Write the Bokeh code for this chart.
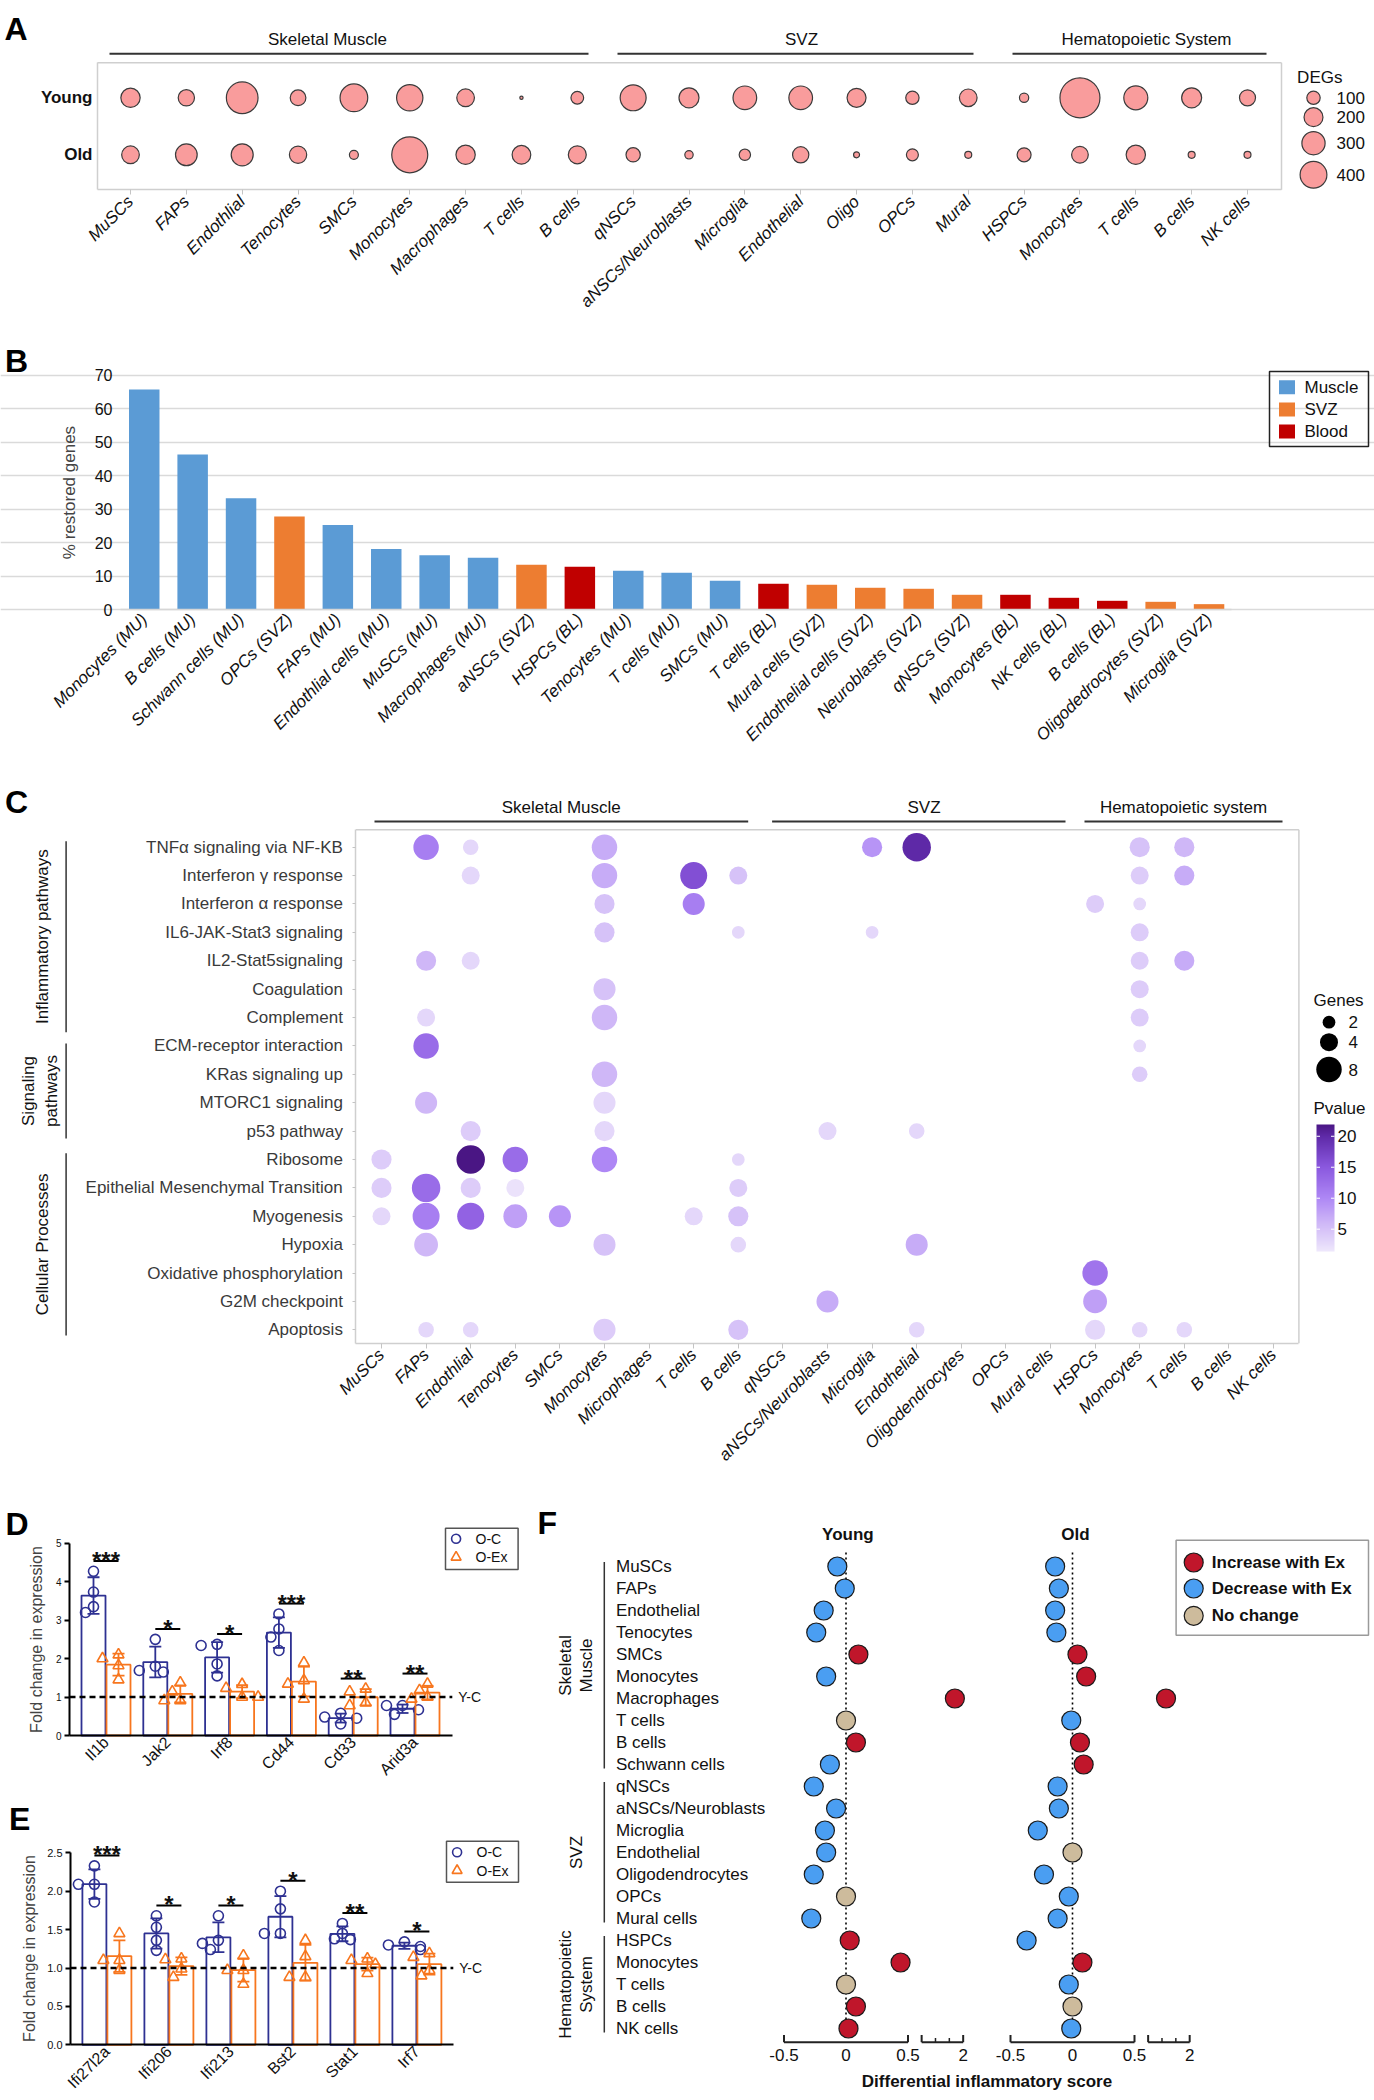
import numpy as np
from math import pi
from bokeh.plotting import figure
from bokeh.models import (Range1d, FixedTicker, LinearColorMapper, ColumnDataSource,
                          LinearAxis, Grid, NumeralTickFormatter)
from bokeh.layouts import column, row
from bokeh.embed import file_html
from bokeh.resources import INLINE
from bokeh.core.properties import value

FONT = "Liberation Sans"

# ============================ DATA ============================
# ---- Panel A: DEGs with exercise ----
a_cells = ["MuSCs", "FAPs", "Endothlial", "Tenocytes", "SMCs", "Monocytes", "Macrophages",
           "T cells", "B cells", "qNSCs", "aNSCs/Neuroblasts", "Microglia", "Endothelial",
           "Oligo", "OPCs", "Mural", "HSPCs", "Monocytes", "T cells", "B cells", "NK cells"]
a_ages = ["Old", "Young"]
a_degs_young = [208, 148, 559, 137, 427, 386, 174, 6, 90, 376, 223, 312, 312, 201, 99, 174,
                48, 891, 321, 223, 143]
a_degs_old = [174, 262, 270, 167, 45, 722, 208, 194, 180, 114, 39, 72, 148, 20, 80, 27,
              109, 155, 208, 27, 27]
a_tissues = ["Skeletal Muscle", "SVZ", "Hematopoietic System"]
a_legend_degs = [100, 200, 300, 400]

# ---- Panel B: % restored genes ----
b_labels = ["Monocytes (MU)", "B cells (MU)", "Schwann cells (MU)", "OPCs (SVZ)", "FAPs (MU)",
            "Endothlial cells (MU)", "MuSCs (MU)", "Macrophages (MU)", "aNSCs (SVZ)", "HSPCs (BL)",
            "Tenocytes (MU)", "T cells (MU)", "SMCs (MU)", "T cells (BL)", "Mural cells (SVZ)",
            "Endothelial cells (SVZ)", "Neuroblasts (SVZ)", "qNSCs (SVZ)", "Monocytes (BL)",
            "NK cells (BL)", "B cells (BL)", "Oligodedrocytes (SVZ)", "Microglia (SVZ)"]
b_values = [65.8, 46.4, 33.3, 27.8, 25.3, 18.1, 16.2, 15.5, 13.4, 12.8, 11.6, 11.0, 8.6, 7.7,
            7.4, 6.5, 6.2, 4.4, 4.4, 3.5, 2.6, 2.3, 1.6]
b_tissue = ["Muscle", "Muscle", "Muscle", "SVZ", "Muscle", "Muscle", "Muscle", "Muscle", "SVZ",
            "Blood", "Muscle", "Muscle", "Muscle", "Blood", "SVZ", "SVZ", "SVZ", "SVZ", "Blood",
            "Blood", "Blood", "SVZ", "SVZ"]
b_legend = ["Muscle", "SVZ", "Blood"]
b_yticks = [0, 10, 20, 30, 40, 50, 60, 70]

# ---- Panel C: pathway enrichment ----
c_cells = ["MuSCs", "FAPs", "Endothlial", "Tenocytes", "SMCs", "Monocytes", "Microphages",
           "T cells", "B cells", "qNSCs", "aNSCs/Neuroblasts", "Microglia", "Endothelial",
           "Oligodendrocytes", "OPCs", "Mural cells", "HSPCs", "Monocytes", "T cells",
           "B cells", "NK cells"]
c_pathways = ["TNFα signaling via NF-ΚB", "Interferon γ response", "Interferon α response",
              "IL6-JAK-Stat3 signaling", "IL2-Stat5signaling", "Coagulation", "Complement",
              "ECM-receptor interaction", "KRas signaling up", "MTORC1 signaling", "p53 pathway",
              "Ribosome", "Epithelial Mesenchymal Transition", "Myogenesis", "Hypoxia",
              "Oxidative phosphorylation", "G2M checkpoint", "Apoptosis"]
c_tissues = ["Skeletal Muscle", "SVZ", "Hematopoietic system"]
c_categories = ["Inflammatory pathways", "Signaling|pathways", "Cellular Processes"]
c_row = [0]*7 + [1]*6 + [2]*4 + [3]*4 + [4]*4 + [5]*2 + [6]*3 + [7]*2 + [8]*2 + [9]*2 + \
        [10]*4 + [11]*5 + [12]*5 + [13]*7 + [14]*4 + [15]*1 + [16]*2 + [17]*8
c_col = [1, 2, 5, 11, 12, 17, 18,
         2, 5, 7, 8, 17, 18,
         5, 7, 16, 17,
         5, 8, 11, 17,
         1, 2, 17, 18,
         5, 17,
         1, 5, 17,
         1, 17,
         5, 17,
         1, 5,
         2, 5, 10, 12,
         0, 2, 3, 5, 8,
         0, 1, 2, 3, 8,
         0, 1, 2, 3, 4, 7, 8,
         1, 5, 8, 12,
         16,
         10, 16,
         1, 2, 5, 8, 12, 16, 17, 18]
c_genes = [8, 3, 8, 5, 10, 5, 5,
           4, 8, 9, 4, 4, 5,
           5, 6, 4, 2,
           5, 2, 2, 4,
           5, 4, 4, 5,
           6, 4,
           4, 8, 4,
           8, 2,
           8, 3,
           6, 6,
           5, 5, 4, 3,
           5, 10, 8, 8, 2,
           5, 10, 5, 4, 4,
           4, 9, 9, 7, 6, 4, 5,
           7, 6, 3, 6,
           8,
           6, 7,
           3, 3, 6, 5, 3, 5, 3, 3]
c_pval = [11, 3, 7, 9, 20, 5, 6,
          3, 7, 16, 5, 4, 7,
          5, 11, 4, 3,
          5, 3, 3, 4,
          6, 3, 4, 7,
          5, 4,
          3, 6, 4,
          13, 3,
          6, 4,
          6, 3,
          4, 3, 3, 3,
          4, 22, 13, 10, 3,
          4, 13, 4, 2, 4,
          3, 11, 14, 8, 9, 3, 5,
          6, 5, 3, 7,
          12,
          7, 8,
          3, 3, 4, 5, 3, 3, 3, 3]
c_legend_genes = [2, 4, 8]
c_legend_pval = [5, 10, 15, 20]
c_pval_range = [1.4, 21.9]

# ---- Panel D: qPCR inflammatory genes ----
d_genes = ["Il1b", "Jak2", "Irf8", "Cd44", "Cd33", "Arid3a"]
d_oc = [[4.27, 3.73, 3.20, 3.35], [2.50, 1.65, 1.69, 1.80], [2.34, 2.37, 1.86, 1.55],
        [3.16, 2.77, 2.56, 2.21], [0.58, 0.30, 0.48, 0.45], [0.78, 0.78, 0.67, 0.55]]
d_oex = [[2.00, 2.10, 1.82, 1.45], [1.37, 1.14, 0.91, 0.91], [1.33, 1.23, 1.00, 1.00],
         [1.89, 1.43, 1.34, 0.95], [1.14, 1.21, 0.78, 0.85], [0.95, 1.34, 1.17, 1.00]]
d_sig = ["***", "*", "*", "***", "**", "**"]
d_yticks = [0, 1, 2, 3, 4, 5]

# ---- Panel E: qPCR interferon genes ----
e_genes = ["Ifi27l2a", "Ifi206", "Ifi213", "Bst2", "Stat1", "Irf7"]
e_oc = [[2.33, 2.09, 2.09, 1.86], [1.68, 1.53, 1.36, 1.23], [1.68, 1.24, 1.32, 1.36],
        [2.00, 1.77, 1.45, 1.45], [1.58, 1.37, 1.38, 1.45], [1.24, 1.34, 1.28, 1.30]]
e_oex = [[1.45, 1.10, 1.10, 0.97], [1.12, 1.11, 0.99, 0.88], [1.16, 0.97, 0.97, 0.79],
         [1.36, 1.15, 0.88, 0.88], [1.10, 1.12, 1.05, 0.93], [1.14, 1.19, 0.90, 0.97]]
e_sig = ["***", "*", "*", "*", "**", "*"]
e_yticks = [0.0, 0.5, 1.0, 1.5, 2.0, 2.5]
de_series = ["O-C", "O-Ex"]
de_ref_label = "Y-C"

# ---- Panel F: differential inflammatory score ----
f_cells = ["MuSCs", "FAPs", "Endothelial", "Tenocytes", "SMCs", "Monocytes", "Macrophages",
           "T cells", "B cells", "Schwann cells", "qNSCs", "aNSCs/Neuroblasts", "Microglia",
           "Endothelial", "Oligodendrocytes", "OPCs", "Mural cells", "HSPCs", "Monocytes",
           "T cells", "B cells", "NK cells"]
f_young = [-0.07, -0.01, -0.18, -0.24, 0.10, -0.16, 1.80, 0.0, 0.08, -0.13, -0.26, -0.08,
           -0.17, -0.16, -0.26, 0.0, -0.28, 0.03, 0.44, 0.0, 0.08, 0.02]
f_young_cls = ["dec", "dec", "dec", "dec", "inc", "dec", "inc", "nc", "inc", "dec", "dec", "dec",
               "dec", "dec", "dec", "nc", "dec", "inc", "inc", "nc", "inc", "inc"]
f_old = [-0.14, -0.11, -0.14, -0.13, 0.04, 0.11, 1.43, -0.01, 0.06, 0.09, -0.12, -0.11,
         -0.28, 0.0, -0.23, -0.03, -0.12, -0.37, 0.08, -0.03, 0.0, -0.01]
f_old_cls = ["dec", "dec", "dec", "dec", "inc", "inc", "inc", "dec", "inc", "inc", "dec", "dec",
             "dec", "nc", "dec", "dec", "dec", "dec", "inc", "dec", "nc", "dec"]
f_group_names = [["Skeletal", "Muscle"], ["SVZ"], ["Hematopoietic", "System"]]
f_group_rows = [(0, 9), (10, 16), (17, 21)]
f_legend = ["Increase with Ex", "Decrease with Ex", "No change"]
f_xticks = [-0.5, 0.0, 0.5, 2.0]
f_panels = ["Young", "Old"]

# ============================ STYLE ============================
W = 1374
C_OC, C_OX = "#2E3192", "#F7761E"
B_COL = {"Muscle": "#5B9BD5", "SVZ": "#ED7D31", "Blood": "#C00000"}
F_COL = {"inc": "#C0162B", "dec": "#4A9EF2", "nc": "#CDBB9C"}
BOXC = "#cfcfcf"


def make_fig(w, h, fig_left, fig_top, xmap, ymap):
    """Figure whose frame covers the whole figure; axes are placed at fixed locations."""
    p = figure(width=w, height=h, x_range=Range1d(xmap(fig_left), xmap(fig_left + w)),
               y_range=Range1d(ymap(fig_top + h), ymap(fig_top)), output_backend="svg",
               toolbar_location=None, x_axis_location=None, y_axis_location=None)
    p.center = [r for r in p.center if not isinstance(r, Grid)]
    p.outline_line_color = None
    p.min_border_left = 0
    p.min_border_right = 0
    p.min_border_top = 0
    p.min_border_bottom = 0
    p.background_fill_color = "white"
    p.border_fill_color = "white"
    return p


def put_text(p, xs, ys, texts, size="17px", align="left", baseline="middle", style="normal",
             color="#111111", angle=0.0, **kw):
    src = ColumnDataSource(dict(x=list(xs), y=list(ys), t=list(texts)))
    p.text("x", "y", text="t", source=src, text_font=value(FONT), text_font_size=value(size),
           text_align=value(align), text_baseline=value(baseline),
           text_font_style=value(style), text_color=color, angle=angle, **kw)


def letter(p, x, y, t):
    put_text(p, [x], [y], [t], size="32px", style="bold", baseline="alphabetic", color="black")


def axis_common(ax, size="17px", color="#111111", italic=False):
    ax.major_label_text_font = FONT
    ax.major_label_text_font_size = size
    ax.major_label_text_color = color
    ax.major_label_text_font_style = "italic" if italic else "normal"
    ax.minor_tick_in = 0
    ax.minor_tick_out = 0
    ax.minor_tick_line_color = None


def interp_palette(stops_v, stops_c, lo, hi, n=256):
    rgb = np.array([[int(c[i:i + 2], 16) for i in (1, 3, 5)] for c in stops_c], float)
    out = []
    for v in np.linspace(lo, hi, n):
        r = [np.interp(v, stops_v, rgb[:, k]) for k in range(3)]
        out.append("#%02x%02x%02x" % tuple(int(round(x)) for x in r))
    return out


# ============================ PANEL A ============================
AX0, AXP, AY1, AYP = 130.0, 55.85, 97.3, 57.0
ax_ = lambda px: (px - AX0) / AXP
ay_ = lambda py: 1 + (AY1 - py) / AYP
pA = make_fig(W, 328, 0, 0, ax_, ay_)
pA.line([ax_(97), ax_(1281)], [ay_(62.3)] * 2, line_color=BOXC, line_width=1.5)
pA.line([ax_(1281)] * 2, [ay_(189.3), ay_(62.3)], line_color=BOXC, line_width=1.5)
n_a = len(a_cells)
srcA = ColumnDataSource(dict(x=list(range(n_a)) * 2, y=[1] * n_a + [0] * n_a,
                             degs=a_degs_young + a_degs_old))
srcA.data["size"] = [1.34 * np.sqrt(v) for v in srcA.data["degs"]]
pA.scatter("x", "y", size="size", source=srcA, fill_color="#F99C9C", line_color="#3b3b3b",
           line_width=1.2)
xa = LinearAxis(ticker=FixedTicker(ticks=list(range(n_a)), minor_ticks=[]),
                fixed_location=ay_(189.3),
                major_label_overrides={i: n for i, n in enumerate(a_cells)},
                major_label_orientation=pi / 4, bounds=(ax_(97), ax_(1281)),
                axis_line_color=BOXC, axis_line_width=1.5, major_tick_in=0, major_tick_out=5,
                major_tick_line_color="#c4c4c4", major_label_standoff=4)
axis_common(xa, italic=True)
pA.add_layout(xa, "below")
ya = LinearAxis(ticker=FixedTicker(ticks=[0, 1], minor_ticks=[]), fixed_location=ax_(97),
                major_label_overrides={0: a_ages[0], 1: a_ages[1]},
                bounds=(ay_(189.3), ay_(62.3)), axis_line_color=BOXC, axis_line_width=1.5,
                major_tick_in=0, major_tick_out=0, major_label_standoff=5)
axis_common(ya)
ya.major_label_text_font_style = "bold"
pA.add_layout(ya, "left")
a_spans = [(109, 588, 327), (617, 973, 801), (1012, 1266, 1146)]
for l, r, c in a_spans:
    pA.line([ax_(l), ax_(r)], [ay_(53.3)] * 2, line_color="#333333", line_width=2)
put_text(pA, [ax_(s[2]) for s in a_spans], [ay_(39)] * 3, a_tissues, align="center")
put_text(pA, [ax_(1296.6)], [ay_(77)], ["DEGs"])
leg_y = [97.3, 116.7, 142.7, 174.3]
pA.scatter([ax_(1313)] * 4, [ay_(y) for y in leg_y],
           size=[1.34 * np.sqrt(v) for v in a_legend_degs],
           fill_color="#F99C9C", line_color="#3b3b3b", line_width=1.2)
put_text(pA, [ax_(1336)] * 4, [ay_(y) for y in leg_y], [str(v) for v in a_legend_degs])
letter(pA, ax_(4), ay_(28), "A")

# ============================ PANEL B ============================
BX0, BXP, BY0, BYP = 143.75, 48.4, 609.0, 3.343
bx_ = lambda px: (px - BX0) / BXP
by_ = lambda py: (BY0 - py) / BYP
pB = make_fig(W, 440, 0, 328, bx_, by_)
gB = Grid(dimension=1, ticker=FixedTicker(ticks=b_yticks),
          bounds=(bx_(120), bx_(1231)), grid_line_color="#dadada", grid_line_width=1.5)
pB.add_layout(gB)
n_b = len(b_labels)
pB.vbar(x=list(range(n_b)), top=b_values, width=0.63,
        fill_color=[B_COL[t] for t in b_tissue], line_color=None)
xb = LinearAxis(ticker=FixedTicker(ticks=list(range(n_b)), minor_ticks=[]), fixed_location=0,
                major_label_overrides={i: n for i, n in enumerate(b_labels)},
                major_label_orientation=pi / 4, bounds=(bx_(120), bx_(1231)),
                axis_line_color="#d6d6d6", axis_line_width=1.5, major_tick_in=0,
                major_tick_out=0, major_label_standoff=7)
axis_common(xb, italic=True)
pB.add_layout(xb, "below")
yb = LinearAxis(ticker=FixedTicker(ticks=b_yticks, minor_ticks=[]), fixed_location=bx_(120),
                bounds=(b_yticks[0], b_yticks[-1]),
                axis_line_color=None, major_tick_in=0, major_tick_out=0,
                major_label_standoff=8, axis_label="% restored genes",
                axis_label_text_font=FONT, axis_label_text_font_size="17px",
                axis_label_text_font_style="normal", axis_label_standoff=13)
axis_common(yb, size="16px")
pB.add_layout(yb, "left")
pB.quad(left=bx_(1269), right=bx_(1368), top=by_(371), bottom=by_(446), fill_color=None,
        line_color="#222222", line_width=1.5)
leg_by = [386.7, 409.0, 431.0]
pB.rect(x=[bx_(1286.5)] * 3, y=[by_(y) for y in leg_by], width=16, height=14,
        width_units="screen", height_units="screen",
        fill_color=[B_COL[t] for t in b_legend], line_color=None)
put_text(pB, [bx_(1304)] * 3, [by_(y) for y in leg_by], b_legend)
letter(pB, bx_(4.5), by_(360), "B")

# ============================ PANEL C ============================
CX0, CXP, CY0, CYP = 381.0, 44.6, 846.7, 28.39
cx_ = lambda px: (px - CX0) / CXP
cy_ = lambda py: 17 - (py - CY0) / CYP
pC = make_fig(W, 712, 0, 768, cx_, cy_)
pC.line([cx_(355.4), cx_(1298.4)], [cy_(829.3)] * 2, line_color=BOXC, line_width=1.5)
pC.line([cx_(1298.4)] * 2, [cy_(1342.7), cy_(829.3)], line_color=BOXC, line_width=1.5)
pal = interp_palette([1.4, 3, 6, 10, 15, 20, 21.9],
                     ["#EFE8FC", "#E3D6FA", "#CFB7F7", "#AE87F5", "#8B59DF", "#5F2AA8", "#4A1684"],
                     c_pval_range[0], c_pval_range[1])
mapper = LinearColorMapper(palette=pal, low=c_pval_range[0], high=c_pval_range[1])
n_rows = len(c_pathways)
srcC = ColumnDataSource(dict(x=c_col, y=[n_rows - 1 - r for r in c_row], p=c_pval,
                             size=[9.0 * np.sqrt(g) for g in c_genes]))
pC.scatter("x", "y", size="size", source=srcC, fill_color={"field": "p", "transform": mapper},
           line_color=None)
xc = LinearAxis(ticker=FixedTicker(ticks=list(range(len(c_cells))), minor_ticks=[]),
                fixed_location=cy_(1342.7),
                major_label_overrides={i: n for i, n in enumerate(c_cells)},
                major_label_orientation=pi / 4, bounds=(cx_(355.4), cx_(1298.4)),
                axis_line_color=BOXC, axis_line_width=1.5, major_tick_in=0, major_tick_out=5,
                major_tick_line_color="#c4c4c4", major_label_standoff=4)
axis_common(xc, italic=True)
pC.add_layout(xc, "below")
yc = LinearAxis(ticker=FixedTicker(ticks=list(range(n_rows)), minor_ticks=[]),
                fixed_location=cx_(355.4),
                major_label_overrides={n_rows - 1 - i: n for i, n in enumerate(c_pathways)},
                bounds=(cy_(1342.7), cy_(829.3)), axis_line_color=BOXC, axis_line_width=1.5,
                major_tick_in=0, major_tick_out=3, major_tick_line_color="#c4c4c4",
                major_label_standoff=10)
axis_common(yc, color="#3a3a3a")
pC.add_layout(yc, "left")
c_spans = [(374, 747.7, 560.7), (771.6, 1065, 923.5), (1084, 1282, 1183)]
for l, r, c in c_spans:
    pC.line([cx_(l), cx_(r)], [cy_(821)] * 2, line_color="#333333", line_width=2)
put_text(pC, [cx_(s[2]) for s in c_spans], [cy_(806.7)] * 3, c_tissues, align="center")
# Genes legend
put_text(pC, [cx_(1313)], [cy_(1000)], ["Genes"])
gl_y = [1021.7, 1041.7, 1069.0]
pC.scatter([cx_(1328.5)] * 3, [cy_(y) for y in gl_y],
           size=[9.0 * np.sqrt(g) for g in c_legend_genes], fill_color="black", line_color=None)
put_text(pC, [cx_(1348)] * 3, [cy_(y) for y in gl_y], [str(g) for g in c_legend_genes])
# Pvalue colour bar
put_text(pC, [cx_(1313)], [cy_(1108)], ["Pvalue"])
cb_top, cb_bot = 1124.0, 1251.0
cb_pp = (cb_bot - cb_top) / (c_pval_range[1] - c_pval_range[0])
grad = np.linspace(c_pval_range[0], c_pval_range[1], 256).reshape(256, 1)
pC.image(image=[grad], x=cx_(1316), y=cy_(cb_bot), dw=18 / CXP, dh=(cb_bot - cb_top) / CYP,
         color_mapper=mapper)
tick_py = [cb_bot - (v - c_pval_range[0]) * cb_pp for v in c_legend_pval]
pC.segment(x0=[cx_(1316)] * 4, y0=[cy_(y) for y in tick_py], x1=[cx_(1319.5)] * 4,
           y1=[cy_(y) for y in tick_py], line_color="white", line_width=1)
pC.segment(x0=[cx_(1330.5)] * 4, y0=[cy_(y) for y in tick_py], x1=[cx_(1334)] * 4,
           y1=[cy_(y) for y in tick_py], line_color="white", line_width=1)
put_text(pC, [cx_(1337)] * 4, [cy_(y) for y in tick_py], [str(v) for v in c_legend_pval])
# left category brackets
c_brackets = [(840.7, 1031.7), (1043, 1138), (1152.7, 1335)]
c_label_x = [[42.4], [27.7, 51.3], [42.4]]
for (t, b), xs, name in zip(c_brackets, c_label_x, c_categories):
    pC.line([cx_(65.6)] * 2, [cy_(t), cy_(b)], line_color="#333333", line_width=1.5)
    parts = name.split("|")
    put_text(pC, [cx_(x) for x in xs], [cy_((t + b) / 2)] * len(parts), parts,
             align="center", angle=pi / 2)
letter(pC, cx_(4.5), cy_(801.7), "C")


# ============================ PANELS D / E ============================
def swarm(vals, ypu, xpu, d=9.5):
    order = sorted(range(len(vals)), key=lambda i: -vals[i])
    placed, offs = [], [0.0] * len(vals)
    for i in order:
        cand = 0
        for cand in (0, -8, 8, -16, 16):
            if all((cand - ox) ** 2 + ((vals[i] - vals[j]) * ypu) ** 2 >= d * d for j, ox in placed):
                break
        offs[i] = cand / xpu
        placed.append((i, cand))
    return offs


def bar_panel(genes, oc, oex, sig, yticks, g, fmt=None):
    X0, XP, Y0, YP = g["x0"], g["xp"], g["y0"], g["yp"]
    xd = lambda px: (px - X0) / XP
    yd = lambda py: (Y0 - py) / YP
    p = make_fig(535, g["h"], 0, g["top"], xd, yd)
    n = len(genes)
    dxb = 12.5 / XP
    for vals_list, sgn, col, mk, msz in ((oc, -1, C_OC, "circle", 10),
                                         (oex, 1, C_OX, "triangle", 11)):
        xs = [i + sgn * dxb for i in range(n)]
        means = [float(np.mean(v)) for v in vals_list]
        sds = [float(np.std(v, ddof=1)) for v in vals_list]
        lo = [m - s for m, s in zip(means, sds)]
        hi = [m + s for m, s in zip(means, sds)]
        p.vbar(x=xs, top=means, width=24 / XP, fill_color=None, line_color=col, line_width=1.8)
        p.segment(x0=xs, y0=lo, x1=xs, y1=hi, line_color=col, line_width=1.8)
        p.scatter(xs + xs, lo + hi, marker="dash", size=12, line_color=col, line_width=1.8)
        px_, py_ = [], []
        for x, v in zip(xs, vals_list):
            px_ += [x + o for o in swarm(v, YP, XP)]
            py_ += list(v)
        p.scatter(px_, py_, marker=mk, size=msz, fill_alpha=0, line_color=col, line_width=1.6)
    for i, s in enumerate(sig):
        yl = max(max(oc[i]), max(oex[i])) + 10.4 / YP
        p.line([i - dxb, i + dxb], [yl, yl], line_color="black", line_width=2)
        put_text(p, [i], [yl + 0.5 / YP], [s], size="24px", align="center",
                 baseline="alphabetic", style="bold", color="#111111")
    p.line([xd(g["fl"]), xd(g["xend"])], [1, 1], line_color="black", line_width=2.5,
           line_dash="6 4")
    put_text(p, [xd(g["xend"] + 6)], [1], [de_ref_label], size="14px")
    L, R, T, B = g["leg"]
    p.quad(left=xd(L), right=xd(R), top=yd(T), bottom=yd(B), fill_color=None,
           line_color="#555555", line_width=1.5)
    p.scatter([xd(L + 10.6)], [yd(g["legy"][0])], marker="circle", size=9, fill_alpha=0,
              line_color=C_OC, line_width=1.6)
    p.scatter([xd(L + 10.6)], [yd(g["legy"][1])], marker="triangle", size=10, fill_alpha=0,
              line_color=C_OX, line_width=1.6)
    put_text(p, [xd(L + 30)] * 2, [yd(y) for y in g["legy"]], de_series, size="14px")
    xa_ = LinearAxis(ticker=FixedTicker(ticks=list(range(n)), minor_ticks=[]), fixed_location=0,
                     major_label_overrides={i: nm for i, nm in enumerate(genes)},
                     bounds=(xd(g["fl"]), xd(g["xend"])), axis_line_width=2,
                     axis_line_color="black", major_tick_in=0, major_tick_out=0,
                     major_label_orientation=pi / 4, major_label_standoff=4)
    axis_common(xa_, size="16px")
    p.add_layout(xa_, "below")
    ya_ = LinearAxis(ticker=FixedTicker(ticks=yticks, minor_ticks=[]), bounds=(0, yticks[-1]),
                     fixed_location=xd(g["fl"]),
                     axis_line_width=2, axis_line_color="black", major_tick_in=0,
                     major_tick_out=5, major_tick_line_width=2, major_label_standoff=3,
                     axis_label="Fold change in expression", axis_label_text_font=FONT,
                     axis_label_text_font_size="16px", axis_label_text_font_style="normal",
                     axis_label_standoff=g["als"])
    if fmt:
        ya_.formatter = NumeralTickFormatter(format=fmt)
    axis_common(ya_, size=g["tfs"])
    p.add_layout(ya_, "left")
    letter(p, xd(g["let"][0]), yd(g["let"][1]), g["let"][2])
    return p


gD = dict(x0=105.5, xp=61.8, y0=1735.0, yp=38.46, top=1480, h=302, fl=69,
          xend=451.8, leg=(445, 517.6, 1527.7, 1569), legy=(1538.3, 1556.7), tfs="10px",
          als=8, let=(5, 1523, "D"))
gE = dict(x0=106.4, xp=62.0, y0=2044.3, yp=76.8, top=1782, h=313, fl=70,
          xend=452.8, leg=(446, 518, 1840.7, 1881.7), legy=(1851.7, 1870.0), tfs="11px",
          als=6, let=(8.6, 1818, "E"))
pD = bar_panel(d_genes, d_oc, d_oex, d_sig, d_yticks, gD)
pE = bar_panel(e_genes, e_oc, e_oex, e_sig, e_yticks, gE, fmt="0.0")

# ============================ PANEL F ============================
S, Y0F, O0F, RY0, RYP = 124.0, 845.5, 1072.0, 1566.0, 22.0
fx_ = lambda px: (px - Y0F) / S
fy_ = lambda py: (py - RY0) / RYP
OFF = (O0F - Y0F) / S
pF = make_fig(W - 535, 615, 535, 1480, fx_, fy_)
pF.extra_x_ranges = {"old": Range1d(pF.x_range.start - OFF, pF.x_range.end - OFF)}
SEG1, SEG2 = (-0.5, 0.5), (0.61, 0.945)


def brk(v):
    return v if v <= 0.5 else SEG2[0] + (v - 1.0) * (SEG2[1] - SEG2[0])


n_f = len(f_cells)
rows_f = list(range(n_f))
ya_line = fy_(2041.7)
for rng in ("default", "old"):
    pF.segment(x0=[0], y0=[fy_(1552)], x1=[0], y1=[fy_(2035)], line_color="black",
               line_width=1.6, line_dash="2 3", x_range_name=rng)
    for a, b in (SEG1, SEG2):
        pF.line([a, b], [ya_line, ya_line], line_color="#222222", line_width=2, x_range_name=rng)
    ends = [SEG1[0], SEG1[1], SEG2[0], SEG2[1]]
    pF.segment(x0=ends, y0=[ya_line] * 4, x1=ends, y1=[fy_(2034.5)] * 4, line_color="#222222",
               line_width=2, x_range_name=rng)
    mins = [SEG2[0] + (SEG2[1] - SEG2[0]) * k / 3 for k in (1, 2)]
    pF.segment(x0=mins, y0=[ya_line] * 2, x1=mins, y1=[fy_(2037.5)] * 2, line_color="#222222",
               line_width=1.5, x_range_name=rng)
pF.scatter([brk(v) for v in f_young], rows_f, size=19,
           fill_color=[F_COL[c] for c in f_young_cls], line_color="#1a1a1a", line_width=1.2)
pF.scatter([brk(v) for v in f_old], rows_f, size=19, fill_color=[F_COL[c] for c in f_old_cls],
           line_color="#1a1a1a", line_width=1.2, x_range_name="old")
put_text(pF, [fx_(615.5)] * n_f, rows_f, f_cells)
gx = [565.0, 586.0]
for (r0, r1), names in zip(f_group_rows, f_group_names):
    pF.line([fx_(603.8)] * 2, [r0 - 0.2, r1 + 0.18], line_color="#333333", line_width=1.5)
    xs = gx if len(names) == 2 else [575.5]
    put_text(pF, [fx_(x) for x in xs], [(r0 + r1) / 2.0] * len(names), names, align="center",
             angle=pi / 2)
put_text(pF, [fx_(847.4), fx_(1075)], [fy_(1534)] * 2, f_panels, align="center", style="bold")
pF.quad(left=fx_(1175.6), right=fx_(1368), top=fy_(1539.8), bottom=fy_(1634.7), fill_color=None,
        line_color="#9a9a9a", line_width=1.5)
leg_fy = [1562.0, 1588.0, 1615.3]
pF.scatter([fx_(1193.2)] * 3, [fy_(y) for y in leg_fy], size=19,
           fill_color=[F_COL[c] for c in ("inc", "dec", "nc")], line_color="#1a1a1a",
           line_width=1.2)
put_text(pF, [fx_(1211.3)] * 3, [fy_(y) for y in leg_fy], f_legend, style="bold")
tick_pos = [round(brk(t), 4) for t in f_xticks]
ticks_all = tick_pos + [round(t + OFF, 4) for t in tick_pos]
labels_all = [("%g" % t) for t in f_xticks] * 2
xf = LinearAxis(ticker=FixedTicker(ticks=ticks_all, minor_ticks=[]), fixed_location=ya_line,
                major_label_overrides={t: s for t, s in zip(ticks_all, labels_all)},
                bounds=(ticks_all[0], ticks_all[-1]),
                axis_line_color=None, major_tick_in=0, major_tick_out=0, major_label_standoff=7,
                axis_label="Differential inflammatory score", axis_label_text_font=FONT,
                axis_label_text_font_size="17px", axis_label_text_font_style="bold",
                axis_label_standoff=7, axis_label_text_color="#111111")
axis_common(xf, color="#111111")
pF.add_layout(xf, "below")
letter(pF, fx_(537), fy_(1522), "F")

layout = column(pA, pB, pC, row(column(pD, pE), pF))
open("out.html", "w").write(file_html(layout, INLINE))
